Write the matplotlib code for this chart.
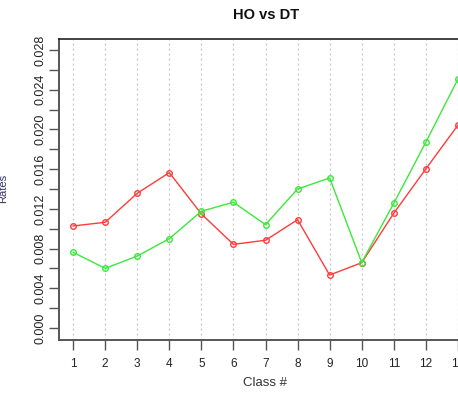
import numpy as np
import matplotlib
matplotlib.use("Agg")
import matplotlib.pyplot as plt
from matplotlib.ticker import MultipleLocator, FormatStrFormatter

classes = np.arange(1, 14)
ho = [0.01028, 0.01065, 0.01357, 0.01565, 0.01149, 0.00843, 0.00884,
      0.01091, 0.00534, 0.00658, 0.01156, 0.01602, 0.02042]
dt = [0.00763, 0.00601, 0.00725, 0.00900, 0.01176, 0.01267, 0.01041,
      0.01400, 0.01511, 0.00660, 0.01256, 0.01871, 0.02506]

plt.rcParams['font.family'] = ['Liberation Sans', 'DejaVu Sans']

fig = plt.figure(figsize=(4.58, 3.94), dpi=100)
# axes run past the right edge of the figure, like the cropped original
ax = fig.add_axes([59/458, 1 - 340/394, 413/458, 301/394])

ax.plot(classes, ho, "-o", color="#ff3b3b", lw=1, ms=4, mfc="none", mew=1)
ax.plot(classes, dt, "-o", color="#3be83b", lw=1, ms=4, mfc="none", mew=1)

ax.set_xlim(0.56, 13.44)
ax.set_ylim(-0.0012, 0.0291)
ax.set_xticks(classes)
ax.yaxis.set_major_locator(MultipleLocator(0.004))
ax.yaxis.set_minor_locator(MultipleLocator(0.002))
ax.yaxis.set_major_formatter(FormatStrFormatter("%.3f"))
ax.grid(axis="x", linestyle=(0, (1.5, 2.5)), color="#c4c4c4", lw=0.9)

for side in ["left", "bottom"]:
    ax.spines[side].set_color("#555555")
    ax.spines[side].set_linewidth(1.4)
ax.spines["top"].set_color("#222222")
ax.spines["top"].set_linewidth(1.2)
ax.spines["right"].set_visible(False)

ax.tick_params(axis="both", which="both", length=7, width=1, color="#555555",
               labelcolor="#222222")
ax.tick_params(axis="y", which="major", labelrotation=90, pad=2, labelsize=9)
ax.tick_params(axis="x", pad=6, labelsize=8.5)
for lbl in ax.get_yticklabels():
    lbl.set_va("center")

fig.text(266/458, 1 - 15/394, "HO vs DT", ha="center", va="center",
         fontsize=10.5, fontweight="bold", color="#111111")
fig.text(265/458, 1 - 383/394, "Class #", ha="center", va="center",
         fontsize=9.5, color="#333333")
fig.text(3/458, 1 - 188/394, "Rates", ha="center", va="center",
         rotation=90, fontsize=8, color="#333366")

fig.savefig("out.png", dpi=100)
